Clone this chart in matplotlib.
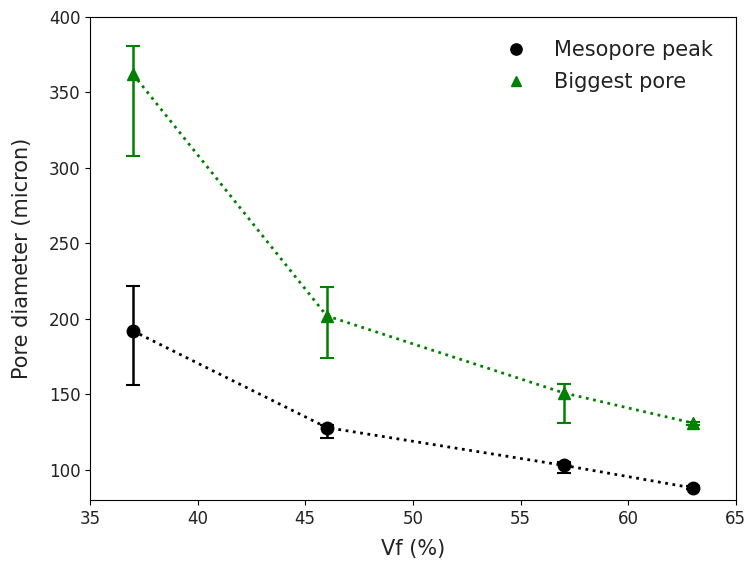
import numpy as np
import matplotlib
matplotlib.use("Agg")
import matplotlib.pyplot as plt

# volume fraction (%)
vf = [37, 46, 57, 63]

# mesopore peak diameter (micron) and its asymmetric error
meso = [192, 128, 103, 88]
meso_err_low = [36, 7, 5, 1]
meso_err_high = [30, 2, 2, 1]

# biggest pore diameter (micron) and its asymmetric error
big = [362, 202, 151, 131]
big_err_low = [54, 28, 20, 1]
big_err_high = [19, 19, 6, 1]

fig = plt.figure(figsize=(7.5, 5.65), dpi=100)
ax = fig.add_axes([0.12, 0.115, 0.861, 0.855])

# dotted connecting lines
ax.plot(vf, meso, ":", color="black", linewidth=2)
ax.plot(vf, big, ":", color="green", linewidth=2)

# error bars
ax.errorbar(vf, meso, yerr=[meso_err_low, meso_err_high], fmt="none",
            ecolor="black", elinewidth=1.8, capsize=5, capthick=1.5)
ax.errorbar(vf, big, yerr=[big_err_low, big_err_high], fmt="none",
            ecolor="green", elinewidth=1.8, capsize=5, capthick=1.5)

# markers
ax.plot(vf, meso, "o", color="black", markersize=9, linestyle="none", label="Mesopore peak")
ax.plot(vf, big, "^", color="green", markersize=8, linestyle="none", label="Biggest pore")

ax.set_xlim(35, 65)
ax.set_ylim(80, 400)
ax.set_xticks([35, 40, 45, 50, 55, 60, 65])
ax.set_yticks([100, 150, 200, 250, 300, 350, 400])
ax.tick_params(labelsize=12, colors="#222222")
ax.tick_params(colors="black", which="both", labelcolor="#222222")

ax.set_xlabel("Vf (%)", fontsize=15, labelpad=8, color="#222222")
ax.set_ylabel("Pore diameter (micron)", fontsize=15, labelpad=12, color="#222222")

ax.legend(frameon=False, fontsize=15, loc="upper right", handletextpad=0.8,
          labelspacing=0.6, borderaxespad=0.7, markerscale=0.9,
          labelcolor="#222222")

plt.savefig("out.png", dpi=100)
plt.close()
